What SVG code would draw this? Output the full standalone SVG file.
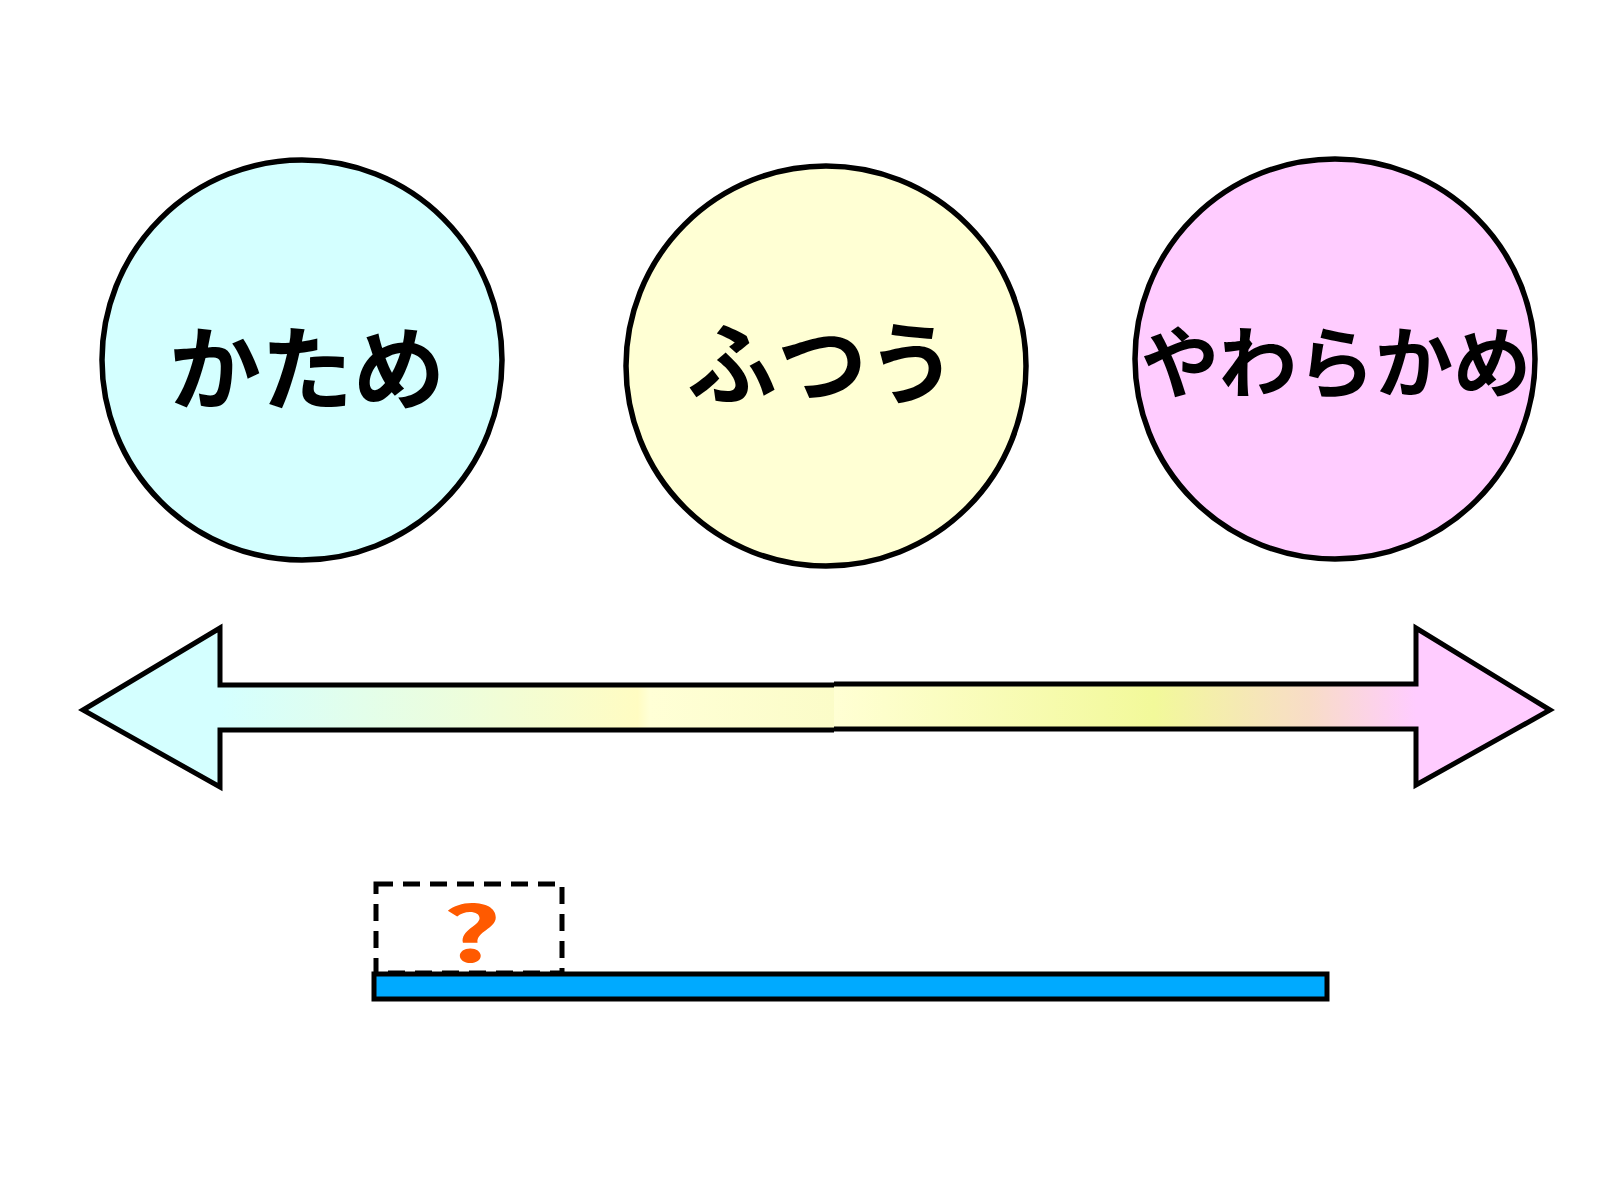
<svg xmlns="http://www.w3.org/2000/svg" width="1600" height="1200" viewBox="0 0 1600 1200">
<style>
.c{stroke:#000;stroke-width:5.5}
.t{font-family:"Noto Sans CJK JP","Noto Sans",sans-serif;font-weight:bold;fill:#000;text-anchor:middle;dominant-baseline:central}
.a{stroke:#000;stroke-width:5;stroke-linejoin:miter}
</style>
<defs>
<linearGradient id="gl" gradientUnits="userSpaceOnUse" x1="220" y1="0" x2="834" y2="0">
<stop offset="0" stop-color="#d4ffff"/>
<stop offset="0.68" stop-color="#fffcc2"/>
<stop offset="0.7" stop-color="#ffffd6"/>
<stop offset="1" stop-color="#fbfcc8"/>
</linearGradient>
<linearGradient id="gr" gradientUnits="userSpaceOnUse" x1="834" y1="0" x2="1416" y2="0">
<stop offset="0" stop-color="#ffffd4"/>
<stop offset="0.55" stop-color="#f2f99a"/>
<stop offset="0.82" stop-color="#f8dcc8"/>
<stop offset="1" stop-color="#ffccff"/>
</linearGradient>
</defs>
<g id="node-katame">
<circle class="c" cx="302" cy="360" r="200" fill="#d4ffff"/>
<text class="t" x="307" y="362" font-size="92">かため</text>
</g>
<g id="node-futsuu">
<circle class="c" cx="826" cy="366" r="200" fill="#ffffd4"/>
<text class="t" x="822" y="358" font-size="90">ふつう</text>
</g>
<g id="node-yawarakame">
<circle class="c" cx="1335" cy="359" r="200" fill="#ffccff"/>
<text class="t" x="1336" y="358" font-size="78">やわらかめ</text>
</g>
<g id="connectors">
<path class="a" d="M834,685 L220,685 L220,628 L83,710 L220,787 L220,730 L834,730" fill="url(#gl)"/>
<path class="a" d="M834,684 L1416,684 L1416,628 L1550,710 L1416,785 L1416,729 L834,729" fill="url(#gr)"/>
</g>
<g id="bar">
<rect x="376" y="884" width="186" height="89" fill="#fff" stroke="#000" stroke-width="5" stroke-dasharray="17,10"/>
<text transform="translate(472,929) scale(1.5,1)" x="0" y="0" font-family="'Noto Sans CJK JP','Noto Sans',sans-serif" font-weight="bold" font-size="76" fill="#ff5a00" text-anchor="middle" dominant-baseline="central">?</text>
<rect x="374" y="974" width="953" height="25" fill="#00aaff" stroke="#000" stroke-width="5"/>
</g>
</svg>
